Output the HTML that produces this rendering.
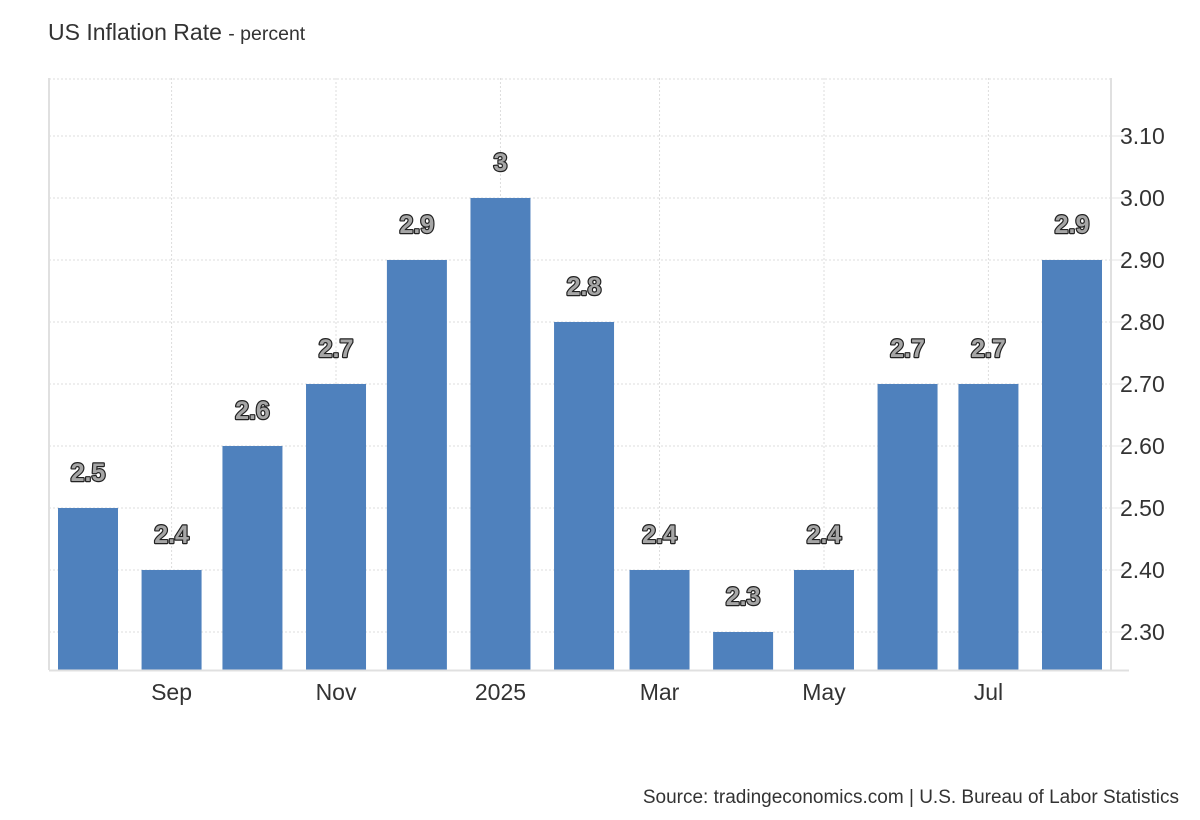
<!DOCTYPE html>
<html><head><meta charset="utf-8"><style>
html,body{margin:0;padding:0;background:#fff;width:1200px;height:820px;overflow:hidden;font-family:"Liberation Sans",Arial,sans-serif;}
</style></head><body>
<svg id="chart" width="1200" height="820" viewBox="0 0 1200 820" xmlns="http://www.w3.org/2000/svg" font-family="Liberation Sans, Arial, sans-serif">
<text x="48" y="40" font-size="23" fill="#333">US Inflation Rate <tspan font-size="19.5" fill="#333">- percent</tspan></text>
<text x="1179" y="803" font-size="19" fill="#333" text-anchor="end">Source: tradingeconomics.com | U.S. Bureau of Labor Statistics</text>
<g id="grid"></g><g id="bars"></g><g id="labels"></g><g id="axes"></g>
</svg>
<script>
const months = ['2024-08','2024-09','2024-10','2024-11','2024-12','2025-01','2025-02','2025-03','2025-04','2025-05','2025-06','2025-07','2025-08'];
const values = [2.5,2.4,2.6,2.7,2.9,3.0,2.8,2.4,2.3,2.4,2.7,2.7,2.9];
const valueLabels = ['2.5','2.4','2.6','2.7','2.9','3','2.8','2.4','2.3','2.4','2.7','2.7','2.9'];
const yTicks = [2.3,2.4,2.5,2.6,2.7,2.8,2.9,3.0,3.1];
const xTickMonths = ['2024-09','2024-11','2025-01','2025-03','2025-05','2025-07'];
const xTickLabels = ['Sep','Nov','2025','Mar','May','Jul'];
const NS='http://www.w3.org/2000/svg';
const plotL=49, plotR=1111, plotT=78, plotB=670;
const yMin=2.2387, yMax=3.1935;
function yPos(v){return plotB-(v-yMin)/(yMax-yMin)*(plotB-plotT);}
const t0=Date.UTC(2024,7,1), t1=Date.UTC(2025,7,1);
function xPos(m){const p=m.split('-').map(Number);const t=Date.UTC(p[0],p[1]-1,1);return 88+(t-t0)/(t1-t0)*(1072-88);}
function mk(tag,attrs,parent){const e=document.createElementNS(NS,tag);for(const k in attrs)e.setAttribute(k,attrs[k]);document.getElementById(parent).appendChild(e);return e;}
yTicks.forEach(v=>{
  const l=mk('line',{x1:plotL,x2:plotR,y1:yPos(v),y2:yPos(v),stroke:'#ddd','stroke-dasharray':'2,2'},'grid');
  
  
  const tk=mk('line',{x1:plotR,x2:plotR+18,y1:yPos(v),y2:yPos(v),stroke:'#e6e6e6'},'axes');
  
  
  const t=mk('text',{x:1120,y:yPos(v)+8,'font-size':23,fill:'#333'},'axes');
  t.textContent=v.toFixed(2);
  
  
});
const topLine=mk('line',{x1:plotL,x2:plotR,y1:plotT+1,y2:plotT+1,stroke:'#ddd','stroke-dasharray':'2,2'},'grid');


xTickMonths.forEach((m,i)=>{
  const l=mk('line',{x1:xPos(m),x2:xPos(m),y1:plotT,y2:plotB,stroke:'#ddd','stroke-dasharray':'2,2'},'grid');
  
  
  const t=mk('text',{x:xPos(m),y:700,'font-size':23,fill:'#333','text-anchor':'middle'},'axes');
  t.textContent=xTickLabels[i];
  
  
});
let a=mk('line',{x1:plotL,x2:plotL,y1:plotT,y2:plotB,stroke:'#e0e0e0','stroke-width':2},'axes');


a=mk('line',{x1:plotR,x2:plotR,y1:plotT,y2:plotB,stroke:'#e0e0e0','stroke-width':2},'axes');


a=mk('line',{x1:plotL,x2:plotR+18,y1:plotB+0.5,y2:plotB+0.5,stroke:'#e0e0e0','stroke-width':2},'axes');


months.forEach((m,i)=>{
  const cx=xPos(m), yt=yPos(values[i]);
  const r=mk('rect',{x:cx-30,y:yt,width:60,height:plotB-yt,fill:'#4f81bd'},'bars');
  
  
  const t=mk('text',{x:cx,y:yt-27,'font-size':25,'font-weight':'bold','text-anchor':'middle',fill:'#a6a6a6',stroke:'#222','stroke-width':2.4,'paint-order':'stroke','stroke-linejoin':'round'},'labels');
  t.textContent=valueLabels[i];
  
  
});
</script>
</body></html>
